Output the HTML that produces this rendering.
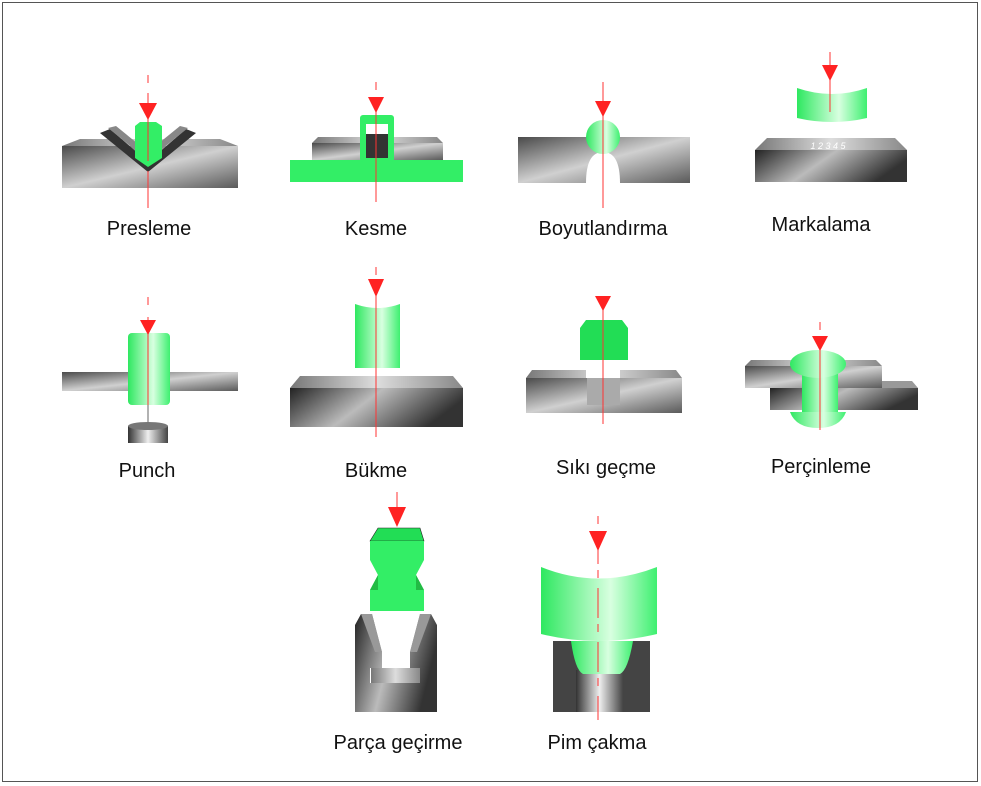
<!DOCTYPE html>
<html><head><meta charset="utf-8"><style>
html,body{margin:0;padding:0;background:#fff}
svg{display:block}
text{font-family:"Liberation Sans",Arial,sans-serif;font-size:20px;fill:#111;text-anchor:middle}
</style></head><body>
<svg width="981" height="786" viewBox="0 0 981 786" xmlns="http://www.w3.org/2000/svg">
<defs>
<linearGradient id="g" x1="0" y1="0" x2="1" y2="1"><stop offset="0" stop-color="#4a4a4a"/><stop offset="0.5" stop-color="#d0d0d0"/><stop offset="1" stop-color="#5a5a5a"/></linearGradient>
<linearGradient id="gd" x1="0" y1="0" x2="1" y2="0.3"><stop offset="0" stop-color="#222"/><stop offset="0.5" stop-color="#bbb"/><stop offset="1" stop-color="#333"/></linearGradient>
<linearGradient id="gt" x1="0" y1="0" x2="1" y2="0"><stop offset="0" stop-color="#777"/><stop offset="0.5" stop-color="#ddd"/><stop offset="1" stop-color="#888"/></linearGradient>
<linearGradient id="gr" x1="0" y1="0" x2="1" y2="0"><stop offset="0" stop-color="#2ee860"/><stop offset="0.6" stop-color="#d8ffe0"/><stop offset="1" stop-color="#3ef070"/></linearGradient>
<linearGradient id="cy" x1="0" y1="0" x2="1" y2="0"><stop offset="0" stop-color="#333"/><stop offset="0.5" stop-color="#eee"/><stop offset="1" stop-color="#444"/></linearGradient>
</defs>
<rect x="2.5" y="2.5" width="975" height="779" fill="#fff" stroke="#555" stroke-width="1"/>

<!-- Presleme -->
<polygon points="62,146 80,139 220,139 238,146" fill="url(#gt)"/>
<rect x="62" y="146" width="176" height="42" fill="url(#g)"/>
<polygon points="100,133 148,172 196,133 186,129 148,162 110,129" fill="#333"/>
<polygon points="108,128 148,160 188,128 180,126 148,152 116,126" fill="#888"/>
<polygon points="135,126 140,122 156,122 162,126 162,158 148,167 135,158" fill="#33ee66"/>
<line x1="148" y1="75" x2="148" y2="208" stroke="#f33" stroke-dasharray="8,10,60,0"/>
<polygon points="139,103 157,103 148,120" fill="#f22"/>
<text x="149" y="235">Presleme</text>

<!-- Kesme -->
<rect x="290" y="160" width="173" height="22" fill="#33ee66"/>
<polygon points="312,143 318,137 437,137 443,143" fill="url(#gt)"/>
<rect x="312" y="143" width="131" height="17" fill="url(#g)"/>
<rect x="360" y="115" width="34" height="47" rx="3" fill="#33ee66"/>
<rect x="366" y="124" width="22" height="10" fill="#fff"/>
<rect x="366" y="134" width="22" height="24" fill="#333"/>
<line x1="376" y1="82" x2="376" y2="202" stroke="#f33" stroke-dasharray="8,10,200,0"/>
<polygon points="368,97 384,97 376,113" fill="#f22"/>
<text x="376" y="235">Kesme</text>

<!-- Boyutlandırma -->
<rect x="518" y="137" width="172" height="46" fill="url(#g)"/>
<path d="M586,183 Q586,152 603,152 Q620,152 620,183 Z" fill="#fff"/>
<circle cx="603" cy="137" r="17" fill="url(#gr)"/>
<line x1="603" y1="82" x2="603" y2="208" stroke="#f33"/>
<polygon points="595,101 611,101 603,117" fill="#f22"/>
<text x="603" y="235">Boyutlandırma</text>

<!-- Markalama -->
<path d="M797,88 Q832,100 867,88 L867,118 Q832,126 797,118 Z" fill="url(#gr)"/>
<polygon points="755,150 767,138 895,138 907,150" fill="url(#gt)"/>
<rect x="755" y="150" width="152" height="32" fill="url(#gd)"/>
<text x="828" y="149" style="font-size:9px;fill:#fff;font-style:italic">1 2 3 4 5</text>
<line x1="830" y1="52" x2="830" y2="112" stroke="#f33"/>
<polygon points="822,65 838,65 830,81" fill="#f22"/>
<text x="821" y="231">Markalama</text>

<!-- Punch -->
<rect x="62" y="372" width="176" height="19" fill="url(#g)"/>
<rect x="128" y="333" width="42" height="72" rx="4" fill="url(#gr)"/>
<rect x="128" y="426" width="40" height="17" fill="url(#cy)"/>
<ellipse cx="148" cy="426" rx="20" ry="4" fill="#777"/>
<line x1="148" y1="297" x2="148" y2="422" stroke="#f33" stroke-dasharray="8,12,200,0"/>
<line x1="148" y1="405" x2="148" y2="422" stroke="#666"/>
<polygon points="140,320 156,320 148,335" fill="#f22"/>
<text x="147" y="477">Punch</text>

<!-- Bükme -->
<path d="M355,304 Q378,312 400,304 L400,368 L355,368 Z" fill="url(#gr)"/>
<polygon points="290,388 300,376 453,376 463,388" fill="url(#gt)"/>
<rect x="290" y="388" width="173" height="39" fill="url(#gd)"/>
<line x1="376" y1="267" x2="376" y2="437" stroke="#f33" stroke-dasharray="8,10,200,0"/>
<polygon points="368,279 384,279 376,297" fill="#f22"/>
<text x="376" y="477">Bükme</text>

<!-- Sıkı geçme -->
<polygon points="580,328 586,320 622,320 628,328 628,360 580,360" fill="#22dd55"/>
<polygon points="526,378 532,370 676,370 682,378" fill="url(#gt)"/>
<rect x="526" y="378" width="156" height="35" fill="url(#g)"/>
<rect x="586" y="370" width="34" height="8" fill="#fff"/>
<rect x="587" y="378" width="33" height="27" fill="#aaa"/>
<line x1="603" y1="296" x2="603" y2="424" stroke="#f33"/>
<polygon points="595,296 611,296 603,311" fill="#f22"/>
<text x="606" y="474">Sıkı geçme</text>

<!-- Perçinleme -->
<polygon points="745,366 751,360 876,360 882,366" fill="url(#gt)"/>
<rect x="745" y="366" width="137" height="22" fill="url(#g)"/>
<rect x="770" y="388" width="148" height="22" fill="url(#gd)"/>
<polygon points="882,381 912,381 918,388 882,388" fill="#999"/>
<rect x="802" y="370" width="36" height="42" fill="url(#gr)"/>
<ellipse cx="818" cy="364" rx="28" ry="14" fill="url(#gr)"/>
<path d="M790,412 L846,412 Q840,428 818,428 Q796,428 790,412 Z" fill="url(#gr)"/>
<line x1="820" y1="322" x2="820" y2="430" stroke="#f33" stroke-dasharray="8,10,200,0"/>
<polygon points="812,336 828,336 820,351" fill="#f22"/>
<text x="821" y="473">Perçinleme</text>

<!-- Parça geçirme -->
<polygon points="370,541 378,528 420,528 424,541" fill="#22dd55" stroke="#222" stroke-width="0.6"/>
<polygon points="370,541 424,541 424,560 416,575 424,590 424,611 370,611 370,590 378,575 370,560" fill="#33ee66"/>
<polygon points="370,590 378,575 378,590" fill="#22bb44"/>
<polygon points="424,590 416,575 416,590" fill="#22bb44"/>
<path d="M355,625 L361,614 L372,614 L382,652 L382,668 L370,668 L370,683 L420,683 L420,668 L410,668 L410,652 L420,614 L431,614 L437,625 L437,712 L355,712 Z" fill="url(#gd)"/>
<rect x="371" y="668" width="49" height="15" fill="url(#gt)"/>
<polygon points="361,614 372,614 382,652 375,652 365,625" fill="#999"/>
<polygon points="431,614 420,614 410,652 417,652 427,625" fill="#999"/>
<line x1="397" y1="492" x2="397" y2="512" stroke="#f33"/>
<polygon points="388,507 406,507 397,527" fill="#f22"/>
<text x="398" y="749">Parça geçirme</text>

<!-- Pim çakma -->
<rect x="553" y="641" width="97" height="71" fill="#444"/>
<rect x="576" y="670" width="47" height="42" fill="url(#cy)"/>
<path d="M571,641 L633,641 Q628,670 620,674 L583,674 Q575,670 571,641 Z" fill="url(#gr)"/>
<path d="M541,567 Q598,590 657,567 L657,634 Q598,648 541,634 Z" fill="url(#gr)"/>
<line x1="598" y1="516" x2="598" y2="720" stroke="#f33" stroke-dasharray="8,10,30,6"/>
<polygon points="589,531 607,531 598,551" fill="#f22"/>
<text x="597" y="749">Pim çakma</text>
</svg>
</body></html>
